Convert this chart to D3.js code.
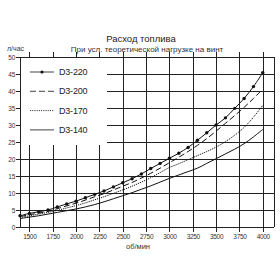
<!DOCTYPE html>
<html>
<head>
<meta charset="utf-8">
<script src="https://cdn.jsdelivr.net/npm/d3@7"></script>
<style>
  body { margin: 0; background: #fff; }
  svg { display: block; font-family: "Liberation Sans", Arial, sans-serif; }
  .grid line { stroke: #222; stroke-width: 1; shape-rendering: crispEdges; }
  .tick text { fill: #333; }
</style>
</head>
<body>
<div id="chart"></div>
<script>
// rpm steps (об/мин)
const rpm = [1400, 1500, 1600, 1700, 1800, 1900, 2000, 2100, 2200, 2300, 2400, 2500, 2600, 2700,
             2800, 2900, 3000, 3100, 3200, 3300, 3400, 3500, 3600, 3700, 3800, 3900, 4000];

// fuel consumption, l/h
const d3_220 = [3.3, 4.0, 4.5, 5.0, 5.9, 6.8, 7.6, 8.6, 9.6, 10.6, 11.8, 13.0, 14.2, 15.6,
                17.2, 18.7, 20.2, 21.7, 23.4, 25.5, 27.7, 30.0, 32.1, 34.9, 37.8, 41.3, 45.4];
const d3_200 = [3.1, 3.6, 4.1, 4.6, 5.4, 6.2, 7.0, 7.9, 8.9, 9.8, 10.9, 12.0, 13.1, 14.4,
                15.8, 17.3, 18.9, 20.5, 22.2, 24.0, 26.0, 28.2, 30.5, 32.8, 35.2, 37.8, 40.6];
const d3_170 = [2.8, 3.3, 3.8, 4.3, 4.9, 5.6, 6.3, 7.1, 8.0, 8.9, 9.9, 10.9, 12.0, 13.2,
                14.5, 16.0, 17.5, 18.6, 19.8, 21.0, 22.2, 23.5, 25.1, 27.0, 29.3, 32.3, 35.8];
const d3_140 = [2.5, 2.9, 3.3, 3.8, 4.3, 4.8, 5.3, 5.9, 6.6, 7.4, 8.3, 9.2, 10.1, 11.1,
                12.1, 13.2, 14.3, 15.3, 16.3, 17.3, 18.7, 20.1, 21.5, 22.9, 24.5, 26.5, 28.7];

const seriesNames = ["D3-220", "D3-200", "D3-170", "D3-140"];
const seriesValues = [d3_220, d3_200, d3_170, d3_140];

const xTicks = [1500, 1750, 2000, 2250, 2500, 2750, 3000, 3250, 3500, 3750, 4000];
const yTicks = [0, 5, 10, 15, 20, 25, 30, 35, 40, 45, 50];

const width  = 280;
const height = 280;
const margin = { top: 57, right: 6, bottom: 53, left: 20 };
const innerWidth  = width  - margin.left - margin.right;
const innerHeight = height - margin.top  - margin.bottom;

const svg = d3.select("#chart")
  .append("svg")
  .attr("width", width)
  .attr("height", height);

const g = svg.append("g")
  .attr("transform", `translate(${margin.left}, ${margin.top})`);

const xScale = d3.scaleLinear()
  .domain([1400, 4120])
  .range([0, innerWidth]);

const yScale = d3.scaleLinear()
  .domain([0, 50])
  .range([innerHeight, 0]);

// vertical grid + ticks sticking out top and bottom
const xAxis = g.append("g")
  .attr("class", "grid")
  .attr("transform", `translate(0, ${innerHeight})`)
  .call(d3.axisBottom(xScale).tickValues(xTicks).tickFormat(d3.format("d")).tickSizeOuter(0));
xAxis.select(".domain").remove();
xAxis.selectAll(".tick line")
  .attr("y1", 5)
  .attr("y2", -innerHeight - 5);
xAxis.selectAll(".tick text")
  .attr("y", 7)
  .style("font-size", "6.5px")
  .style("letter-spacing", "-0.3px");

// horizontal grid
const yAxis = g.append("g")
  .attr("class", "grid")
  .call(d3.axisLeft(yScale).tickValues(yTicks).tickSizeOuter(0));
yAxis.select(".domain").remove();
yAxis.selectAll(".tick line")
  .attr("x1", -4)
  .attr("x2", innerWidth);
yAxis.selectAll(".tick text")
  .attr("x", -5)
  .style("font-size", "6.5px")
  .style("letter-spacing", "-0.3px");

// left and right borders
g.append("g").attr("class", "grid")
  .selectAll("line")
  .data([0, innerWidth])
  .join("line")
    .attr("x1", d => d).attr("x2", d => d)
    .attr("y1", 0).attr("y2", innerHeight);

// legend box (white, covers the grid)
const legend = g.append("g");
legend.append("rect")
  .attr("x", 1)
  .attr("y", 1)
  .attr("width", 86)
  .attr("height", 87)
  .attr("fill", "#fff");

const dashes = [null, "6,3", "1.2,1", null];

seriesNames.forEach((name, i) => {
  const ly = 15 + i * 19.3;
  legend.append("line")
    .attr("x1", 10).attr("x2", 34)
    .attr("y1", ly).attr("y2", ly)
    .attr("stroke", "#444")
    .attr("stroke-width", 1)
    .attr("stroke-dasharray", dashes[i]);
  if (i === 0) {
    legend.append("circle")
      .attr("cx", 22).attr("cy", ly).attr("r", 1.6)
      .attr("fill", "#111");
  }
  legend.append("text")
    .attr("x", 39)
    .attr("y", ly)
    .attr("dy", "0.35em")
    .style("font-size", "9px")
    .style("letter-spacing", "-0.2px")
    .style("fill", "#222")
    .text(name);
});

// curves
const line = d3.line()
  .x((d, i) => xScale(rpm[i]))
  .y(d => yScale(d))
  .curve(d3.curveCatmullRom);

seriesValues.forEach((vals, i) => {
  g.append("path")
    .datum(vals)
    .attr("fill", "none")
    .attr("stroke", "#111")
    .attr("stroke-width", 1)
    .attr("stroke-dasharray", dashes[i])
    .attr("d", line);
});

g.selectAll(".dot")
  .data(d3_220)
  .join("circle")
    .attr("class", "dot")
    .attr("cx", (d, i) => xScale(rpm[i]))
    .attr("cy", d => yScale(d))
    .attr("r", 1.7)
    .attr("fill", "#111");

// titles
svg.append("text")
  .attr("x", 141).attr("y", 42)
  .attr("text-anchor", "middle")
  .style("font-size", "9.5px")
  .style("fill", "#222")
  .text("Расход топлива");

svg.append("text")
  .attr("x", 147).attr("y", 52)
  .attr("text-anchor", "middle")
  .style("font-size", "8px")
  .style("fill", "#333")
  .text("При усл. теоретической нагрузке на винт");

svg.append("text")
  .attr("x", 7).attr("y", 51)
  .style("font-size", "7px")
  .style("fill", "#333")
  .text("л/час");

svg.append("text")
  .attr("x", 138).attr("y", 249)
  .attr("text-anchor", "middle")
  .style("font-size", "7.5px")
  .style("fill", "#333")
  .text("об/мин");
</script>
</body>
</html>
